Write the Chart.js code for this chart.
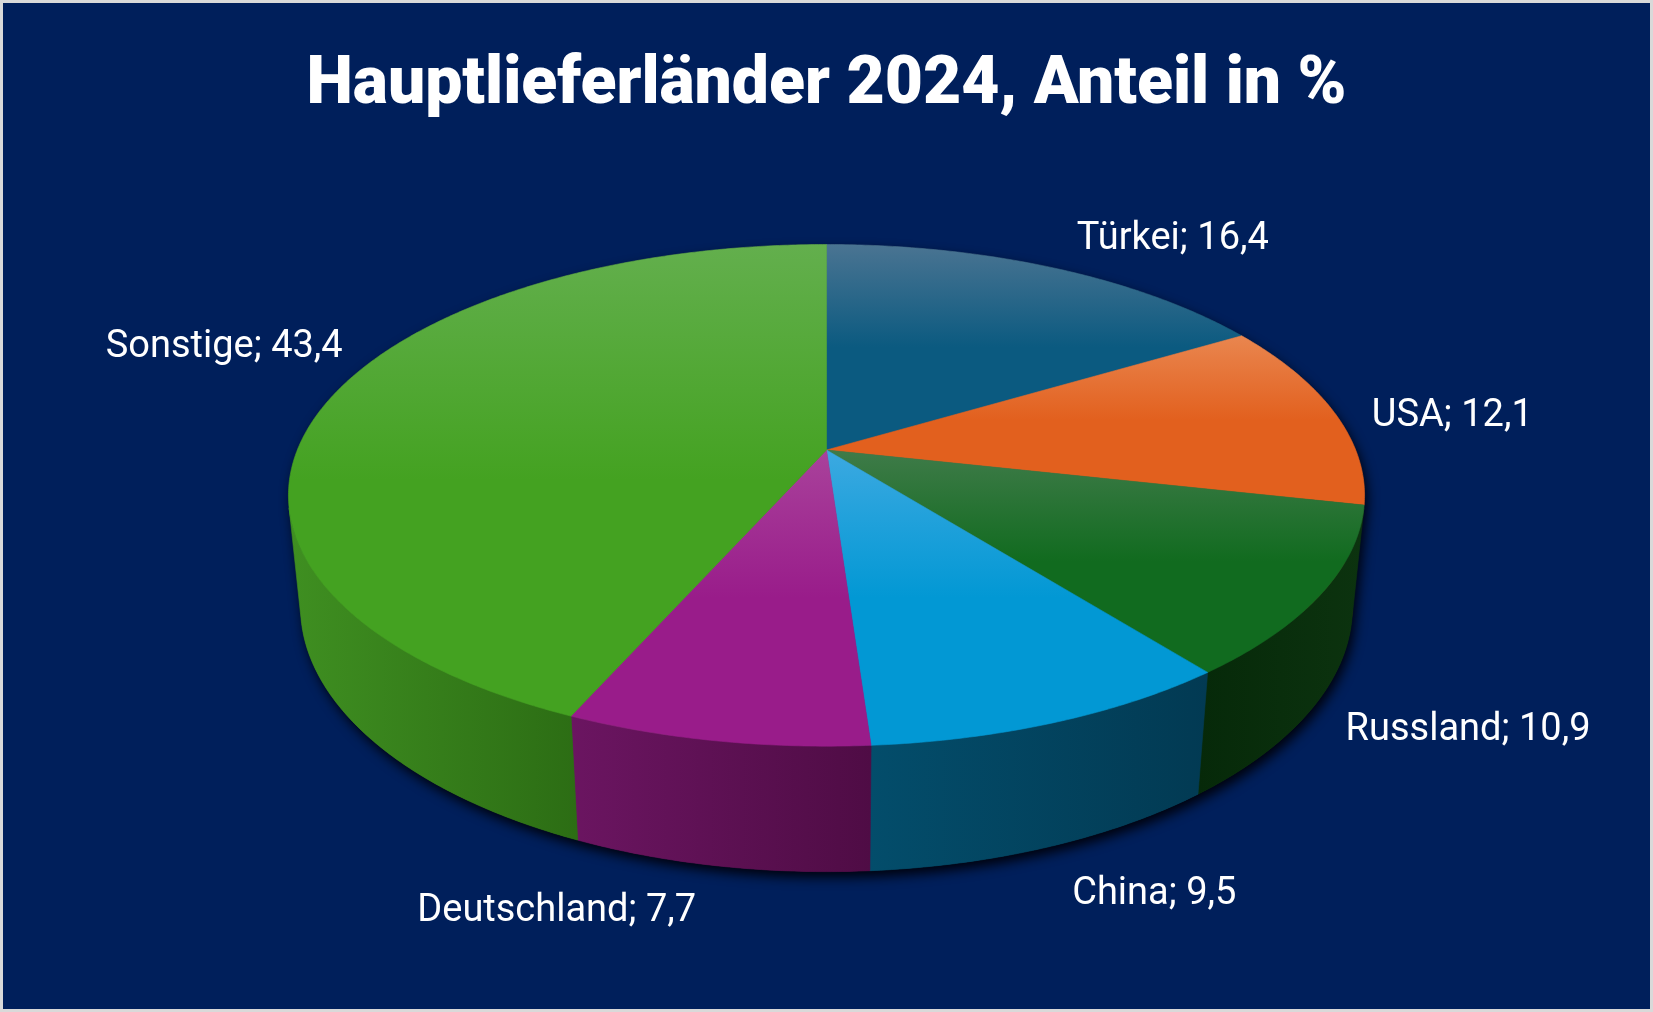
<!DOCTYPE html>
<html>
<head>
<meta charset="utf-8">
<script src="https://cdn.jsdelivr.net/npm/chart.js@4.4.1/dist/chart.umd.min.js"></script>
<style>
  html, body { margin: 0; padding: 0; background: #001f5b; }
  #wrap { position: relative; width: 1653px; height: 1012px; }
</style>
</head>
<body>
<div id="wrap"><canvas id="c"></canvas></div>
<script>
// ---- data ----
const categories = ['Türkei', 'USA', 'Russland', 'China', 'Deutschland', 'Sonstige'];
const shares = [16.4, 12.1, 10.9, 9.5, 7.7, 43.4];
const titleText = 'Hauptlieferländer 2024, Anteil in %';

// ---- styles ----
const topBase  = ['#0b5a80', '#e2601e', '#116b1f', '#0298d4', '#991c8a', '#44a221'];
const topLight = ['#4a7492', '#e9864f', '#3f7b49', '#3ca9e1', '#a9429b', '#63af4d'];
const sideLeft  = ['#0b4a6a', '#9c4015', '#062909', '#034d6b', '#6b1561', '#3f8f21'];
const sideRight = ['#083a55', '#7d3210', '#0c330f', '#023a53', '#4f0c45', '#2c6d14'];
// label offsets (px) from the rim anchor to the label centre
const labelOffsets = [[121, -32], [118, 0], [158, 16], [105, 44], [-162, 42], [-103, -58]];

// perspective parameters of the 3D disc
const P = { A: 529.2, D0: 4.918, s: 0.4585, c: 0.8887, H: 0.2385 };
const VIS = Math.asin(1 / (P.D0 * P.c)); // wall visible for angles in (VIS, PI-VIS)

function proj(cx, cy, u, v, z) {
  const w = 1 - (P.c * v + P.s * z) / P.D0;
  return [cx + P.A * u / w, cy + P.A * (P.s * v - P.c * z) / w];
}
function rim(cx, cy, a0, a1, z) {
  const pts = [];
  const n = Math.max(2, Math.ceil(Math.abs(a1 - a0) / (Math.PI / 360)));
  for (let i = 0; i <= n; i++) {
    const a = a0 + (a1 - a0) * i / n;
    pts.push(proj(cx, cy, Math.cos(a), Math.sin(a), z));
  }
  return pts;
}
function visRange(a0, a1) {
  for (const k of [0, -2 * Math.PI, 2 * Math.PI]) {
    const lo = Math.max(a0 + k, VIS), hi = Math.min(a1 + k, Math.PI - VIS);
    if (hi > lo) return [lo, hi];
  }
  return null;
}

const pie3d = {
  id: 'pie3d',
  beforeDraw(chart) {
    const ctx = chart.ctx;
    ctx.save();
    ctx.fillStyle = '#001f5b';
    ctx.fillRect(0, 0, chart.width, chart.height);
    ctx.restore();
  },
  beforeDatasetsDraw(chart) {
    const ctx = chart.ctx;
    const arcs = chart.getDatasetMeta(0).data;
    const cx = arcs[0].x, cy = arcs[0].y;
    const zb = -P.H;
    ctx.save();
    // shadow of the whole body
    ctx.save();
    ctx.shadowColor = 'rgba(0,0,8,0.95)';
    ctx.shadowBlur = 12;
    ctx.shadowOffsetX = 3;
    ctx.shadowOffsetY = 6;
    ctx.fillStyle = '#06122e';
    ctx.beginPath();
    const sil = rim(cx, cy, VIS, Math.PI - VIS, zb).concat(rim(cx, cy, Math.PI - VIS, VIS + 2 * Math.PI, 0));
    sil.forEach((p, i) => i ? ctx.lineTo(p[0], p[1]) : ctx.moveTo(p[0], p[1]));
    ctx.closePath();
    ctx.fill();
    ctx.restore();

    // bottom faces
    arcs.forEach((arc, i) => {
      const pts = rim(cx, cy, arc.startAngle, arc.endAngle, zb);
      const c0 = proj(cx, cy, 0, 0, zb);
      ctx.beginPath();
      ctx.moveTo(c0[0], c0[1]);
      pts.forEach(p => ctx.lineTo(p[0], p[1]));
      ctx.closePath();
      ctx.fillStyle = sideRight[i];
      ctx.fill();
    });
    // walls
    arcs.forEach((arc, i) => {
      const r = visRange(arc.startAngle, arc.endAngle);
      if (!r) return;
      const top = rim(cx, cy, r[0], r[1], 0);
      const bot = rim(cx, cy, r[1], r[0], zb);
      const all = top.concat(bot);
      let minX = Infinity, maxX = -Infinity;
      all.forEach(p => { minX = Math.min(minX, p[0]); maxX = Math.max(maxX, p[0]); });
      const g = ctx.createLinearGradient(minX, 0, maxX, 0);
      g.addColorStop(0, sideLeft[i]);
      g.addColorStop(1, sideRight[i]);
      ctx.beginPath();
      all.forEach((p, k) => k ? ctx.lineTo(p[0], p[1]) : ctx.moveTo(p[0], p[1]));
      ctx.closePath();
      ctx.fillStyle = g;
      ctx.fill();
      ctx.strokeStyle = g;
      ctx.lineWidth = 0.6;
      ctx.stroke();
    });
    // top faces
    arcs.forEach((arc, i) => {
      const pts = rim(cx, cy, arc.startAngle, arc.endAngle, 0);
      const c0 = proj(cx, cy, 0, 0, 0);
      const all = [c0].concat(pts);
      let minY = Infinity, maxY = -Infinity;
      all.forEach(p => { minY = Math.min(minY, p[1]); maxY = Math.max(maxY, p[1]); });
      const g = ctx.createLinearGradient(0, minY, 0, maxY);
      g.addColorStop(0, topLight[i]);
      g.addColorStop(0.5, topBase[i]);
      g.addColorStop(1, topBase[i]);
      ctx.beginPath();
      all.forEach((p, k) => k ? ctx.lineTo(p[0], p[1]) : ctx.moveTo(p[0], p[1]));
      ctx.closePath();
      ctx.fillStyle = g;
      ctx.fill();
      ctx.strokeStyle = g;
      ctx.lineWidth = 0.6;
      ctx.stroke();
    });
    ctx.restore();
    return false;
  },
  afterDraw(chart) {
    const ctx = chart.ctx;
    const arcs = chart.getDatasetMeta(0).data;
    const cx = arcs[0].x, cy = arcs[0].y;
    ctx.save();
    ctx.fillStyle = '#ffffff';
    ctx.font = '38px Roboto';
    ctx.textAlign = 'center';
    ctx.textBaseline = 'alphabetic';
    arcs.forEach((arc, i) => {
      const mid = (arc.startAngle + arc.endAngle) / 2;
      const front = Math.sin(mid) > Math.sin(VIS);
      const a = proj(cx, cy, Math.cos(mid), Math.sin(mid), front ? -P.H : 0);
      const txt = categories[i] + '; ' + String(shares[i]).replace('.', ',');
      ctx.fillText(txt, a[0] + labelOffsets[i][0], a[1] + labelOffsets[i][1] + 13.5);
    });
    // frame
    ctx.strokeStyle = '#d9d9d9';
    ctx.lineWidth = 3;
    ctx.strokeRect(1.5, 1.5, chart.width - 3, chart.height - 3);
    ctx.restore();
  }
};

new Chart(document.getElementById('c'), {
  type: 'pie',
  data: {
    labels: categories,
    datasets: [{ data: shares, backgroundColor: topBase, borderWidth: 0 }]
  },
  options: {
    responsive: true,
    maintainAspectRatio: false,
    devicePixelRatio: 1,
    animation: false,
    layout: { padding: { top: 0, bottom: 244.4, left: 0, right: 0 } },
    plugins: {
      legend: { display: false },
      tooltip: { enabled: false },
      title: {
        display: true,
        text: titleText,
        color: '#ffffff',
        font: { family: 'Roboto', size: 66, weight: '900' },
        padding: { top: 46.4, bottom: 6.8 }
      }
    }
  },
  plugins: [pie3d]
});
</script>
</body>
</html>
